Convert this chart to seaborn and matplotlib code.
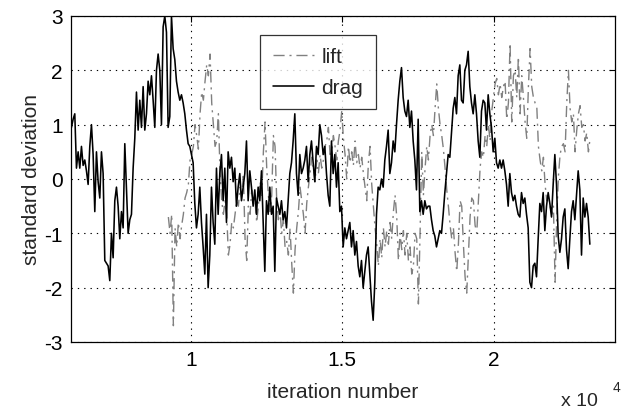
import numpy as np
import pandas as pd
import matplotlib
matplotlib.use("Agg")
import matplotlib.pyplot as plt
import seaborn as sns

# ---- data (one value every 55 iterations) ----
step = 55

drag_start = 6065
drag_values = [
    # 6065 ...
    0.95, 1.1, 1.2, 0.2, 0.5, 0.2, 0.6, 0.25, 0.35, 0.15,
    -0.1, 0.6, 1.0, 0.45, -0.6, 0.5, -0.05, -0.35, 0.5, 0.1,
    -1.5, -1.55, -1.6, -1.87, -1.0, -1.45, -0.4, -0.15, -0.5, -1.1,
    -0.6, -0.9, 0.65, -0.2, -1.0, -0.75, -0.65, 0.2, 0.75, 1.6,
    0.9, 1.45, 0.95, 1.7, 0.9, 1.2, 1.8, 1.55, 1.9, 1.45,
    0.95, 2.0, 2.3,
    # ~8980 ...
    2.0, 1.0, 2.8, 3.0, 2.7, 0.95, 1.15, 3.0, 2.4, 2.2,
    1.8, 1.6, 1.45, 1.55, 1.4, 1.2, 0.9, 0.65, 0.6, 0.45,
    0.3, -0.45, -0.9, -0.65, -0.15, -0.8, -1.25, -1.75, -0.65, -2.0,
    -1.4, -0.15, -0.8, -1.2, 0.2, -0.65, 0.1, 0.45, -0.4, 0.2,
    -0.8, 0.5, 0.2, 0.4, -0.05, 0.2, -0.5, -0.15, 0.1, -0.4,
    -0.15,
    # ~11785 ...
    0.1, 0.7, -0.4, 0.15, -0.15, -0.5, -0.2, -0.65, -0.15, -0.4,
    0.15, -0.75, -1.7, -0.4, -0.65, -0.15, -0.65, -0.5, -1.7, -0.35,
    -0.5, -0.65, -0.4, -0.75, -0.6, -0.9, -0.4, 0.1, 0.3, 0.7,
    1.2, 0.1, -0.3, 0.45, 0.1, 0.2, 0.35, 0.6, -0.05, 0.45,
    0.7, 0.3, -0.05, 0.6, 0.45, 1.0, 0.8, 0.45, 0.6, 0.1,
    -0.3, -0.5,
    # ~14645 ...
    0.7, 0.1, 0.45, -0.15, 0.3, -0.6, -0.5, -1.25, -0.9, -1.1,
    -0.95, -0.8, -1.25, -0.95, -1.4, -1.15, -1.6, -1.8, -1.5, -2.0,
    -1.7, -1.4, -1.25, -1.75, -2.25, -2.6, -1.9, -0.65, -0.15, -0.2,
    0.0, -0.15, 0.35, 0.6, 0.9, 0.1, 0.3, 0.7, 0.5, 1.0,
    1.45, 1.8, 2.05, 1.5, 1.25, 1.15, 1.45, 0.95, 1.25, 0.7,
    0.35, -0.2,
    # ~17505 ...
    1.1, -0.6, -0.4, -0.65, -0.4, -0.55, -0.5, -0.5, -0.75, -0.95,
    -1.05, -1.25, -1.1, -0.95, -1.0, -0.65, -0.25, 0.1, 0.45, 0.4,
    0.85, 1.3, 1.5, 1.2, 1.9, 2.1, 1.45, 1.4, 2.0, 2.1,
    2.35, 1.7, 1.4, 1.2, 1.55, 1.2, 0.7, 0.4, 1.25, 1.45,
    1.4, 0.9, 1.55, 1.2, 0.95, 0.5, 0.75, 0.3, 0.2, 0.35,
    0.2, 0.35,
    # ~20365 ...
    0.15, -0.1, -0.5, 0.1, -0.25, -0.4, -0.3, -0.5, -0.65, -0.7,
    -0.25, -0.45, -0.35, -0.65, -0.9, -1.9, -2.0, -1.6, -1.55, -1.8,
    -1.1, -0.45, -0.6, -0.25, -0.95, -0.5, -0.25, -0.45, -0.7, -0.1,
    0.45, -0.1, -1.05, -1.35, -1.1, -0.7, -0.55, -1.3, -1.65, -1.1,
    -0.6, -0.4, -0.75, -0.3, 0.15, -0.2, -1.4, -0.35, -0.7, -0.45,
    -0.7, -1.2,
]

lift_start = 9263
lift_values = [
    # 9263 ...
    -0.7, -1.0, -0.65, -2.7, -0.9, -1.25, -0.8, -1.1, -0.85, -0.65,
    -0.35, -0.25, -0.1, 0.35, 0.45, 0.6, 1.0, 0.8, 0.55, 1.2,
    1.6, 1.45, 1.8, 2.1, 1.9, 2.3, 1.4, 1.0, 0.6, 0.7,
    1.2, 0.1, -0.4, -0.65, -0.4, -0.65, -1.4, -1.2, -0.8, -0.9,
    -0.65, -0.4, -0.5, -0.15, -0.35, 0.1,
    # ~11790 ...
    -1.1, -1.5, -0.5, -0.65, -0.2, -0.45, -0.4, -0.8, -0.5, -0.05,
    -0.3, 0.5, 1.05, 0.2, -0.3, -0.6, -0.3, 0.8, 0.6, -0.4,
    -0.75, -0.6, -1.0, -0.75, -1.25, -1.15, -1.4, -0.9, -1.55, -2.1,
    -1.3, -0.9, -0.6, -0.15, -0.4, -0.65, -1.0, -0.45, -0.15, 0.1,
    0.4, 0.2, -0.05, 0.35, 0.1, 0.45, 0.2, 0.35, 0.6, 0.7,
    0.95, 0.45,
    # ~14650 ...
    0.5, 0.8, 0.6, 0.35, 0.7, 0.9, 1.25, 0.75, 0.45, 0.0,
    0.6, 0.3, 0.5, 0.25, 0.7, 0.3, 0.45, 0.2, 0.4, 0.1,
    -0.15, -0.4, 0.3, 0.6, -0.1, -0.5, -0.9, -1.2, -1.6, -1.1,
    -1.45, -0.9, -1.25, -0.95, -1.2, -0.8, -1.1, -0.6, -0.3, -0.7,
    -1.5, -1.0, -1.3, -0.95, -1.4, -1.0, -1.5, -1.25, -1.75, -1.6,
    -1.0, -1.1,
    # ~17510 ...
    -2.3, -1.0, 0.5, -0.3, 0.2, 0.6, 0.35, 0.8, 1.0, 0.8,
    1.3, 1.75, 1.3, 1.0, 0.8, 0.55, 0.2, -0.2, -0.5, -0.85,
    -1.1, -0.9, -1.35, -1.7, -1.2, -0.4, -0.5, -1.2, -1.8, -2.1,
    -1.4, -0.7, -0.35, -0.4, -0.85, -1.0, -0.4, 0.2, 0.5, 0.4,
    0.8, 0.6, 1.0, 0.7, 1.25, 1.5, 1.75, 1.85, 1.55, 1.75,
    1.5, 1.7,
    # ~20370 ...
    1.8, 1.1, 1.4, 2.5, 1.05, 1.9, 2.0, 1.5, 2.25, 1.2,
    1.9, 1.5, 1.05, 0.75, 1.7, 2.4, 1.7, 1.5, 1.4, 1.35,
    0.6, 0.35, 0.15, 0.4, -0.1, -0.4, -0.3, -0.5, -0.65, -0.5,
    -1.9, -0.7, 0.05, 0.45, 0.6, 0.65, 0.5, 1.4, 2.0, 1.3,
    1.05, 1.2, 0.5, 0.9, 1.2, 1.35, 0.95, 1.0, 0.7, 0.85,
    0.5, 0.75,
]

x_ticks = [10000, 15000, 20000]
x_tick_labels = ["1", "1.5", "2"]
y_ticks = [-3, -2, -1, 0, 1, 2, 3]
series_labels = ["lift", "drag"]

drag_iter = drag_start + step * np.arange(len(drag_values))
lift_iter = lift_start + step * np.arange(len(lift_values))
drag_df = pd.DataFrame({"iteration": drag_iter, "value": drag_values})
lift_df = pd.DataFrame({"iteration": lift_iter, "value": lift_values})

# ---- style ----
sns.set_style("white")
plt.rcParams["font.family"] = ["Liberation Sans", "DejaVu Sans"]
plt.rcParams["font.size"] = 15

W, H = 629, 410
fig = plt.figure(figsize=(W / 100, H / 100), dpi=100)
L, R, T, B = 71, 615, 17, 343
ax = fig.add_axes([L / W, (H - B) / H, (R - L) / W, (B - T) / H])

sns.lineplot(data=lift_df, x="iteration", y="value", ax=ax, color="#808080",
             lw=1.0, linestyle=(0, (8, 3.5, 1.5, 3.5)), label=series_labels[0],
             estimator=None, sort=False)
sns.lineplot(data=drag_df, x="iteration", y="value", ax=ax, color="black",
             lw=1.15, label=series_labels[1], estimator=None, sort=False)

ax.set_xlim(6050, 24000)
ax.set_ylim(-3, 3)
ax.set_xticks(x_ticks)
ax.set_xticklabels(x_tick_labels)
ax.set_yticks(y_ticks)
ax.set_yticklabels([str(v) for v in y_ticks])
ax.tick_params(direction="in", top=True, right=True, length=4, width=0.8,
               labelsize=15, colors="black", pad=6)
ax.grid(True, color="black", linestyle=(0, (1.2, 4.5)), lw=0.8)
for s in ax.spines.values():
    s.set_color("black")
    s.set_linewidth(0.9)

ax.set_xlabel("iteration number", fontsize=15, labelpad=9)
ax.set_ylabel("standard deviation", fontsize=15, labelpad=2)

leg = ax.legend(loc="upper left", bbox_to_anchor=((260 - L) / (R - L), (B - 36) / (B - T)),
                borderaxespad=0, frameon=True, fancybox=False, fontsize=15,
                handlelength=2.0, handletextpad=0.35, labelspacing=0.55,
                borderpad=0.6)
leg.get_frame().set_edgecolor("black")
leg.get_frame().set_linewidth(0.9)

fig.text(561 / W, 1 - 402 / H, "x 10", fontsize=14, va="center", ha="left")
fig.text(613 / W, 1 - 388 / H, "4", fontsize=10, va="center", ha="left")

fig.savefig("out.png", dpi=100, facecolor="white")
